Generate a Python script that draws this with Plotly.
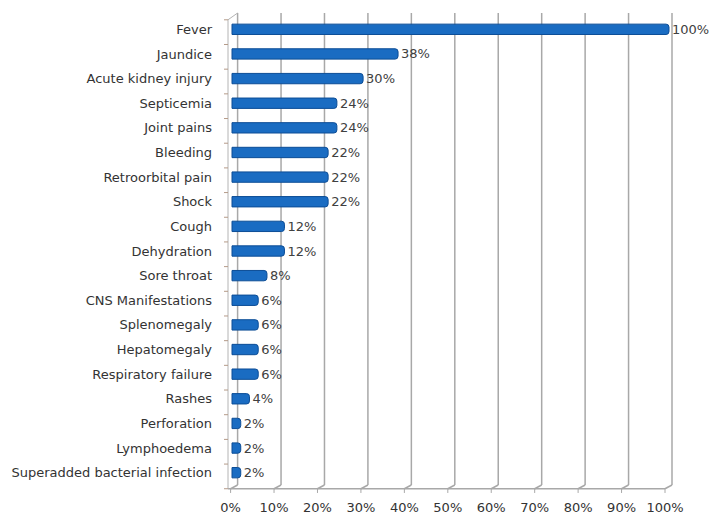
import plotly.graph_objects as go

categories = ["Fever", "Jaundice", "Acute kidney injury", "Septicemia", "Joint pains",
              "Bleeding", "Retroorbital pain", "Shock", "Cough", "Dehydration",
              "Sore throat", "CNS Manifestations", "Splenomegaly", "Hepatomegaly",
              "Respiratory failure", "Rashes", "Perforation", "Lymphoedema",
              "Superadded bacterial infection"]
values = [100, 38, 30, 24, 24, 22, 22, 22, 12, 12, 8, 6, 6, 6, 6, 4, 2, 2, 2]
tick_vals = [0, 10, 20, 30, 40, 50, 60, 70, 80, 90, 100]
tick_text = [f"{v}%" for v in tick_vals]

FONT = "DejaVu Sans"
GRID = "#a8a8a8"

# pixel geometry (decoration only)
PL, PR = 222, 674          # plot area edges in pixels
B0, B100 = 232, 669        # where bar values 0 and 100 land
PX = (B100 - B0) / 100.0
def d(p):                  # pixel -> bar data units
    return (p - B0) / PX
def back(v):               # back-wall gridline
    return d(237.6 + 4.344 * v)
def front(v):              # floor-front tick
    return d(230.6 + 4.344 * v)

fig = go.Figure()
fig.add_trace(go.Bar(
    y=categories, x=values, orientation="h",
    width=0.42,
    marker=dict(color="#1a6cc2", line=dict(color="#0c4d96", width=1), cornerradius=3),
    text=[f"{v}%" for v in values], textposition="outside",
    textfont=dict(family=FONT, size=13, color="#404040"),
    constraintext="none",
    cliponaxis=False,
))
fig.add_trace(go.Scatter(x=[None], y=[None], xaxis="x2", yaxis="y", showlegend=False, hoverinfo="skip"))

shapes = []
FLOOR = -0.008
TOP = 1.0085
LW = d(228)
for v in tick_vals:
    shapes.append(dict(type="line", xref="x", yref="paper", x0=back(v), x1=back(v), y0=0, y1=TOP,
                       line=dict(color=GRID, width=1.5), layer="below"))
    shapes.append(dict(type="line", xref="x", yref="paper", x0=back(v), x1=front(v), y0=0, y1=FLOOR,
                       line=dict(color=GRID, width=1.5), layer="below"))
    shapes.append(dict(type="line", xref="x", yref="paper", x0=front(v), x1=front(v), y0=FLOOR, y1=-0.017,
                       line=dict(color=GRID, width=1), layer="below"))
shapes.append(dict(type="line", xref="x", yref="paper", x0=LW, x1=front(100), y0=FLOOR, y1=FLOOR,
                   line=dict(color=GRID, width=1.5), layer="below"))
shapes.append(dict(type="line", xref="x", yref="paper", x0=LW, x1=LW, y0=FLOOR, y1=0.994,
                   line=dict(color="#b4b4b4", width=1), layer="below"))
shapes.append(dict(type="line", xref="x", yref="paper", x0=LW, x1=back(0), y0=0.994, y1=TOP,
                   line=dict(color="#b4b4b4", width=1), layer="below"))
n = len(categories)
for i in range(n + 1):
    yp = FLOOR + i * ((0.994 - FLOOR) / n)
    shapes.append(dict(type="line", xref="x", yref="paper", x0=d(224), x1=LW, y0=yp, y1=yp,
                       line=dict(color="#b49a88", width=1), layer="below"))

fig.update_layout(
    width=709, height=516,
    margin=dict(l=PL, r=709 - PR, t=17, b=31, autoexpand=False),
    paper_bgcolor="white", plot_bgcolor="white",
    showlegend=False,
    font=dict(family=FONT, size=13, color="#333333"),
    shapes=shapes,
    xaxis=dict(range=[d(PL), d(PR)], showticklabels=False, automargin=False,
               showgrid=False, zeroline=False, showline=False, ticks=""),
    xaxis2=dict(overlaying="x", anchor="y", side="bottom", automargin=False,
                range=[(PL - 230.6) / 4.344, (PR - 230.6) / 4.344],
                tickvals=tick_vals, ticktext=tick_text,
                showgrid=False, zeroline=False, showline=False, ticks="",
                ticklabelstandoff=13,
                tickfont=dict(family=FONT, size=13, color="#333333")),
    yaxis=dict(categoryorder="array", categoryarray=categories[::-1],
               autorange=False, range=[-0.5, n - 0.5], automargin=False,
               showgrid=False, zeroline=False, showline=False, ticks="",
               ticklabelstandoff=9,
               tickfont=dict(family=FONT, size=13, color="#333333")),
)

fig.write_html("out.html")
